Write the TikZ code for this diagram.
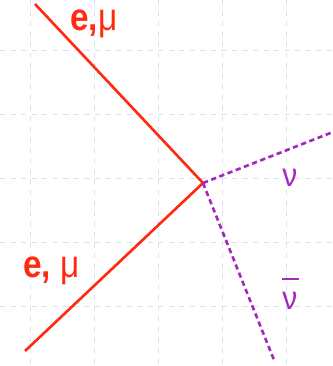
\documentclass[tikz,border=0pt]{standalone}
\usepackage{fontspec}
\setmainfont{Liberation Sans}
\usepackage{tikz}
\usetikzlibrary{positioning, calc}

\definecolor{lepred}{HTML}{FF2A10}
\definecolor{nupurple}{HTML}{A428C0}
\definecolor{gridblue}{HTML}{D6E2F8}

\begin{document}
\begin{tikzpicture}[
  x=0.02cm, y=-0.02cm,
  gridline/.style={gridblue, dashed, line width=0.5pt},
  lepton/.style={lepred, line width=1.5pt},
  neutrino/.style={nupurple, line width=1.5pt, dash pattern=on 3pt off 2pt},
  leplbl/.style={lepred, inner sep=0pt, anchor=base west, font=\fontsize{19}{19}\selectfont, yscale=1.15, transform shape},
  nulbl/.style={nupurple, inner sep=0pt, anchor=base west, font=\fontsize{17}{17}\selectfont, yscale=1.1, transform shape},
]
\useasboundingbox (0,0) rectangle (333,366);

% background grid
\foreach \x in {30,94,158,222,286} \draw[gridline] (\x,0) -- (\x,366);
\foreach \y in {50,114,178,242,306} \draw[gridline] (0,\y) -- (333,\y);

\coordinate (vertex) at (203,183);
\coordinate (lepin) at (25,351);
\coordinate (lepout) at (35,4);
\coordinate (nuend) at (333,132);
\coordinate (nubarend) at (274,360);

\draw[lepton] (lepin) -- (vertex);
\draw[lepton] (vertex) -- (lepout);
\draw[neutrino] (vertex) -- (nuend);
\draw[neutrino] (vertex) -- (nubarend);

\node[leplbl] (outlbl) at (70,30) {\textbf{e,}μ};
\node[leplbl] (inlbl) at (23,277) {\textbf{e,} μ};
\node[nulbl] (nulabel) at (282,186) {ν};
\node[nulbl] (nubarlabel) at (282,309) {\rlap{\raisebox{15pt}{\rule{9.5pt}{0.8pt}}}ν};
\end{tikzpicture}
\end{document}
